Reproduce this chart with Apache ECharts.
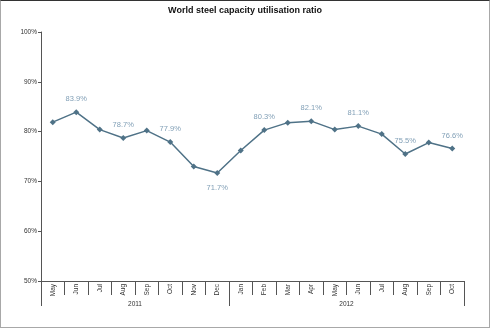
<!DOCTYPE html>
<html>
<head>
<meta charset="utf-8">
<script src="https://cdn.jsdelivr.net/npm/echarts@6/dist/echarts.min.js"></script>
<style>
html,body{margin:0;padding:0;background:#fff;}
#wrap{position:relative;width:490px;height:328px;}
#chart{position:absolute;left:0;top:0;width:490px;height:328px;}
#frame{position:absolute;left:0;top:0;width:490px;height:328px;box-sizing:border-box;border:1px solid #a8a8a8;border-top:1px solid #333;pointer-events:none;}
</style>
</head>
<body>
<div id="wrap"><div id="chart"></div><div id="frame"></div></div>
<script>
var months = ['May','Jun','Jul','Aug','Sep','Oct','Nov','Dec','Jan','Feb','Mar','Apr','May','Jun','Jul','Aug','Sep','Oct'];
var values = [81.9,83.9,80.4,78.7,80.2,77.9,73.0,71.7,76.2,80.3,81.8,82.1,80.4,81.1,79.5,75.5,77.8,76.6];
var labelled = [0,1,0,1,0,1,0,1,0,1,0,1,0,1,0,1,0,1];
var labelBelow = [0,0,0,0,0,0,0,1,0,0,0,0,0,0,0,0,0,0];
var years = ['2011','2012'];
var yearSpans = [8,10];
var yTicks = [50,60,70,80,90,100];

var bounds = [0], centers = [];
yearSpans.forEach(function(s,i){ centers.push(bounds[i] + s/2); bounds.push(bounds[i] + s); });

var data = values.map(function(v,i){
  return {
    value: v,
    label: {
      show: !!labelled[i],
      position: labelBelow[i] ? 'bottom' : 'top',
      distance: labelBelow[i] ? 8 : 6
    }
  };
});

var chart = echarts.init(document.getElementById('chart'));
chart.setOption({
  animation: false,
  title: {
    text: 'World steel capacity utilisation ratio',
    left: 'center', top: 1,
    textStyle: {fontFamily: 'Liberation Sans, Arial', fontSize: 9, fontWeight: 'bold', color: '#111'}
  },
  grid: {left: 41, right: 26, top: 32, bottom: 47, containLabel: false},
  xAxis: [{
    type: 'category',
    data: months,
    position: 'bottom',
    boundaryGap: true,
    axisLine: {lineStyle: {color: '#555', width: 1}},
    axisTick: {show: true, length: 14, lineStyle: {color: '#555'}},
    axisLabel: {rotate: 90, fontSize: 6.5, margin: 3, color: '#333', fontFamily: 'Liberation Sans, Arial'}
  }, {
    type: 'value',
    min: 0, max: 18,
    position: 'bottom',
    axisLine: {show: false},
    splitLine: {show: false},
    axisTick: {show: true, length: 25, customValues: bounds, lineStyle: {color: '#555'}},
    axisLabel: {
      customValues: centers,
      margin: 20,
      fontSize: 6.5,
      color: '#333',
      fontFamily: 'Liberation Sans, Arial',
      formatter: function(v){ var i = centers.indexOf(v); return i >= 0 ? years[i] : ''; }
    }
  }],
  yAxis: {
    type: 'value',
    min: yTicks[0], max: yTicks[yTicks.length-1], interval: 10,
    axisLine: {show: true, lineStyle: {color: '#555'}},
    axisTick: {show: true, length: 3, lineStyle: {color: '#555'}},
    splitLine: {show: false},
    axisLabel: {fontSize: 6.5, margin: 4, color: '#333', fontFamily: 'Liberation Sans, Arial', formatter: '{value}%'}
  },
  series: [{
    type: 'line',
    xAxisIndex: 0,
    data: data,
    symbol: 'diamond',
    symbolSize: 6,
    lineStyle: {color: '#4f7287', width: 1.5},
    itemStyle: {color: '#4f7287'},
    label: {color: '#809fb6', fontSize: 7.5, fontFamily: 'Liberation Sans, Arial', formatter: function(p){ return p.value.toFixed(1) + '%'; }}
  }]
});
</script>
</body>
</html>
